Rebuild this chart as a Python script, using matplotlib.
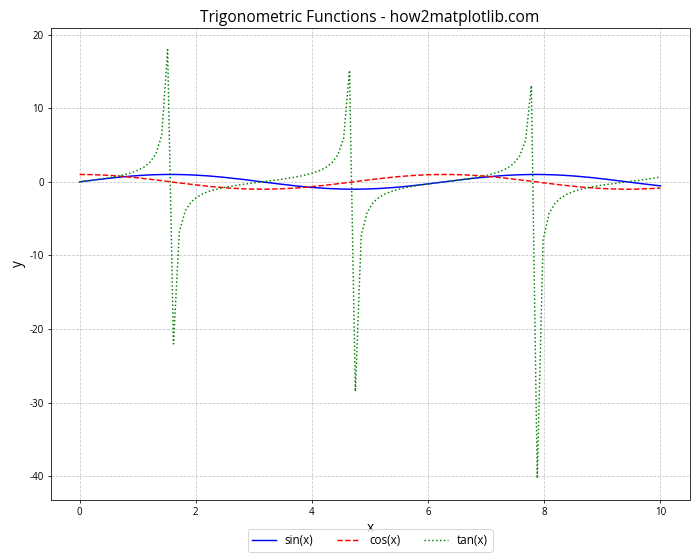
import numpy as np
import matplotlib
matplotlib.use('Agg')
from matplotlib import pyplot as plt

plt.rcParams['font.family'] = ['Open Sans', 'DejaVu Sans']
plt.rcParams['axes.unicode_minus'] = False

# 100 evenly spaced samples from 0 to 10
x = np.linspace(0, 10, 100)

sin_y = [0.00, 0.10, 0.20, 0.30, 0.39, 0.48, 0.57, 0.65, 0.72, 0.79,
         0.85, 0.90, 0.94, 0.97, 0.99, 1.00, 1.00, 0.99, 0.97, 0.94,
         0.90, 0.85, 0.80, 0.73, 0.66, 0.58, 0.49, 0.40, 0.31, 0.21,
         0.11, 0.01, -0.09, -0.19, -0.29, -0.38, -0.47, -0.56, -0.64, -0.72,
         -0.78, -0.84, -0.89, -0.93, -0.96, -0.99, -1.00, -1.00, -0.99, -0.97,
         -0.94, -0.91, -0.86, -0.80, -0.74, -0.67, -0.59, -0.50, -0.41, -0.32,
         -0.22, -0.12, -0.02, 0.08, 0.18, 0.28, 0.37, 0.47, 0.55, 0.63,
         0.71, 0.78, 0.84, 0.89, 0.93, 0.96, 0.98, 1.00, 1.00, 0.99,
         0.97, 0.95, 0.91, 0.86, 0.81, 0.74, 0.67, 0.60, 0.51, 0.42,
         0.33, 0.23, 0.13, 0.03, -0.07, -0.17, -0.27, -0.36, -0.46, -0.54]

cos_y = [1.00, 0.99, 0.98, 0.95, 0.92, 0.88, 0.82, 0.76, 0.69, 0.61,
         0.53, 0.44, 0.35, 0.26, 0.16, 0.06, -0.05, -0.15, -0.24, -0.34,
         -0.43, -0.52, -0.61, -0.68, -0.75, -0.82, -0.87, -0.92, -0.95, -0.98,
         -0.99, -1.00, -1.00, -0.98, -0.96, -0.92, -0.88, -0.83, -0.77, -0.70,
         -0.62, -0.54, -0.45, -0.36, -0.26, -0.17, -0.07, 0.04, 0.13, 0.23,
         0.33, 0.43, 0.51, 0.60, 0.68, 0.75, 0.81, 0.87, 0.91, 0.95,
         0.98, 0.99, 1.00, 1.00, 0.98, 0.96, 0.93, 0.88, 0.83, 0.77,
         0.71, 0.63, 0.55, 0.46, 0.37, 0.27, 0.18, 0.08, -0.02, -0.13,
         -0.22, -0.32, -0.42, -0.51, -0.59, -0.67, -0.74, -0.80, -0.86, -0.91,
         -0.94, -0.97, -0.99, -1.00, -1.00, -0.99, -0.96, -0.93, -0.89, -0.84]

tan_y = [0.00, 0.10, 0.20, 0.31, 0.43, 0.55, 0.69, 0.85, 1.05, 1.28,
         1.59, 2.02, 2.67, 3.79, 6.33, 17.95, -22.03, -6.78, -3.96, -2.75,
         -2.07, -1.63, -1.31, -1.07, -0.87, -0.71, -0.57, -0.44, -0.32, -0.22,
         -0.11, -0.01, 0.09, 0.19, 0.30, 0.42, 0.54, 0.68, 0.84, 1.03,
         1.26, 1.56, 1.97, 2.59, 3.64, 5.93, 15.15, -28.49, -7.30, -4.14,
         -2.84, -2.13, -1.67, -1.34, -1.09, -0.89, -0.72, -0.58, -0.45, -0.34,
         -0.23, -0.12, -0.02, 0.08, 0.18, 0.29, 0.40, 0.53, 0.66, 0.82,
         1.00, 1.23, 1.52, 1.92, 2.51, 3.50, 5.58, 13.10, -40.30, -7.91,
         -4.33, -2.94, -2.19, -1.71, -1.37, -1.11, -0.91, -0.74, -0.59, -0.46,
         -0.35, -0.24, -0.13, -0.03, 0.07, 0.17, 0.28, 0.39, 0.51, 0.65]

fig, ax = plt.subplots(figsize=(10, 8), dpi=70)
ax.plot(x, sin_y, color='blue', linestyle='-', label='sin(x)')
ax.plot(x, cos_y, color='red', linestyle='--', label='cos(x)')
ax.plot(x, tan_y, color='green', linestyle=':', label='tan(x)')
ax.set_title('Trigonometric Functions - how2matplotlib.com', fontsize=16)
ax.set_xlabel('x', fontsize=14)
ax.set_ylabel('y', fontsize=14)
ax.grid(True, linestyle='--', alpha=0.7)
ax.legend(loc='upper center', bbox_to_anchor=(0.5, -0.05), ncol=3, fontsize=12)
fig.tight_layout()
fig.savefig('out.png')
